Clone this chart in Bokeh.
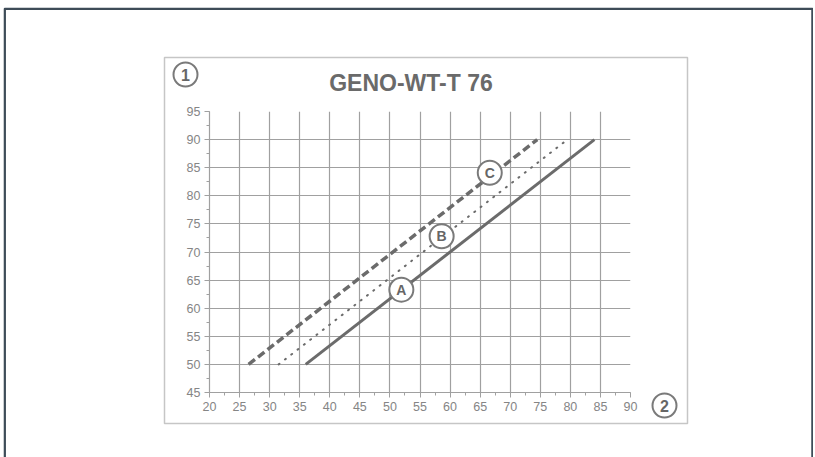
from bokeh.plotting import figure
from bokeh.layouts import column
from bokeh.models import Range1d, SingleIntervalTicker
from bokeh.core.properties import value
from bokeh.embed import file_html
from bokeh.resources import INLINE

# ---- data ----
series_names = ["A", "B", "C"]
a_x = [36, 84]
a_y = [50, 90]
b_x = [31.5, 79.5]
b_y = [50, 90]
c_x = [26.5, 74.5]
c_y = [50, 90]
marker_x = [51.9, 58.6, 66.6]
marker_y = [63.3, 72.8, 84.1]
x_ticks = list(range(20, 95, 5))
y_ticks = list(range(45, 100, 5))
title_text = "GENO-WT-T 76"
axis_badges = ["1", "2"]

FONT = "Liberation Sans"
LINE = "#6b6b6b"
GRID = "#a0a0a0"
TICKTXT = "#858585"
W, H = 810, 450

# ---- background sheet (frame, panel, title, axis badges) in pixel coordinates ----
bg = figure(width=W, height=H, x_range=Range1d(0, W), y_range=Range1d(H, 0),
            x_axis_type=None, y_axis_type=None, output_backend="svg",
            toolbar_location=None, min_border=0)
bg.frame_align = False
bg.outline_line_color = None
bg.grid.visible = False
bg.quad(left=[1.2], right=[809], top=[1.2], bottom=[H + 30],
        fill_color=None, line_color="#3e4c58", line_width=2.5)
bg.quad(left=[161], right=[684], top=[50], bottom=[416],
        fill_color=None, line_color="#c6c6c6", line_width=1.5)
bg.text(x=[407.5], y=[75.5], text=[title_text], text_align="center", text_baseline="middle",
        text_font=value(FONT), text_font_style="bold", text_font_size="23px",
        text_color="#6a6a6a")
bx = [182, 661]
by = [67, 398]
bg.scatter(bx, by, size=24, fill_color="white", line_color="#7a7a7a", line_width=2)
bg.text(x=bx, y=by, text=axis_badges, text_align="center", text_baseline="middle",
        text_font=value(FONT), text_font_style="bold", text_font_size="16px",
        text_color="#666666")

# ---- chart ----
p = figure(width=W, height=H,
           x_range=Range1d(x_ticks[0], x_ticks[-1]),
           y_range=Range1d(y_ticks[0], y_ticks[-1]),
           output_backend="svg", toolbar_location=None,
           min_border_left=206, min_border_right=183,
           min_border_top=104, min_border_bottom=65)
p.frame_align = False
p.styles = {"margin-top": f"-{H}px"}
p.outline_line_color = None
p.background_fill_alpha = 0
p.border_fill_alpha = 0

ticker = SingleIntervalTicker(interval=5, num_minor_ticks=2)
for ax in (p.xaxis[0], p.yaxis[0]):
    ax.ticker = ticker
    ax.axis_line_color = GRID
    ax.axis_line_width = 1.2
    ax.major_tick_line_color = GRID
    ax.minor_tick_line_color = GRID
    ax.major_tick_in = 0
    ax.major_tick_out = 5
    ax.minor_tick_in = 0
    ax.minor_tick_out = 3
    ax.major_label_text_font = FONT
    ax.major_label_text_font_size = "12.5px"
    ax.major_label_text_color = TICKTXT
    ax.major_label_standoff = 4
for g in (p.xgrid[0], p.ygrid[0]):
    g.ticker = ticker
    g.grid_line_color = GRID
    g.grid_line_width = 1.2

p.line(a_x, a_y, line_color=LINE, line_width=3)
p.line(b_x, b_y, line_color=LINE, line_width=2, line_dash="1 7", line_cap="round")
p.line(c_x, c_y, line_color=LINE, line_width=3.5, line_dash="8 4")

p.scatter(marker_x, marker_y, size=24, fill_color="white", line_color="#7a7a7a", line_width=2)
p.text(marker_x, marker_y, text=series_names, text_align="center", text_baseline="middle",
       text_font=value(FONT), text_font_style="bold", text_font_size="14px", text_color="#666666")

page = column(bg, p)
page.styles = {"margin-left": "3px", "margin-top": "7px"}

open("out.html", "w").write(file_html(page, INLINE))
